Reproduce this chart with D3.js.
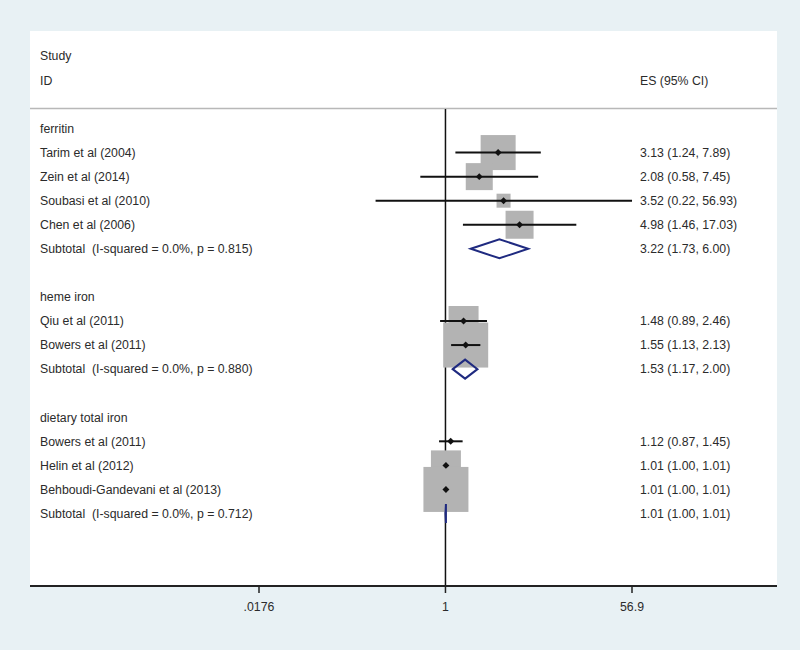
<!DOCTYPE html>
<html><head><meta charset="utf-8">
<script src="https://cdn.jsdelivr.net/npm/d3@7"></script>
<style>
html,body{margin:0;padding:0;background:#e8f1f4;}
svg{display:block;}
text{font-family:"Liberation Sans",Arial,sans-serif;font-size:12.3px;fill:#2b2b2b;white-space:pre;}
</style></head>
<body>
<svg id="chart" width="800" height="650"></svg>
<script>
// ---- data ----
const groupNames = ["ferritin", "heme iron", "dietary total iron"];
const studyGroup = [0, 0, 0, 0, 1, 1, 2, 2, 2];
const studyNames = ["Tarim et al (2004)", "Zein et al (2014)", "Soubasi et al (2010)", "Chen et al (2006)",
  "Qiu et al (2011)", "Bowers et al (2011)",
  "Bowers et al (2011)", "Helin et al (2012)", "Behboudi-Gandevani et al (2013)"];
const studyES = [3.13, 2.08, 3.52, 4.98, 1.48, 1.55, 1.12, 1.01, 1.01];
const studyLo = [1.24, 0.58, 0.22, 1.46, 0.89, 1.13, 0.87, 1.00, 1.00];
const studyHi = [7.89, 7.45, 56.93, 17.03, 2.46, 2.13, 1.45, 1.01, 1.01];
const studyWeight = [6.05, 3.6, 0.97, 3.87, 4.44, 10.0, 0.05, 4.44, 10.0];
const studyText = ["3.13 (1.24, 7.89)", "2.08 (0.58, 7.45)", "3.52 (0.22, 56.93)", "4.98 (1.46, 17.03)",
  "1.48 (0.89, 2.46)", "1.55 (1.13, 2.13)",
  "1.12 (0.87, 1.45)", "1.01 (1.00, 1.01)", "1.01 (1.00, 1.01)"];
const subLabels = ["Subtotal  (I-squared = 0.0%, p = 0.815)", "Subtotal  (I-squared = 0.0%, p = 0.880)", "Subtotal  (I-squared = 0.0%, p = 0.712)"];
const subES = [3.22, 1.53, 1.01];
const subLo = [1.73, 1.17, 1.00];
const subHi = [6.00, 2.00, 1.01];
const subText = ["3.22 (1.73, 6.00)", "1.53 (1.17, 2.00)", "1.01 (1.00, 1.01)"];
const tickValues = [0.0176, 1, 56.9];
const tickLabels = [".0176", "1", "56.9"];

// ---- layout ----
const svg = d3.select("#chart");
const panel = {x0: 30, x1: 777, y0: 31, y1: 586};
svg.append("rect").attr("x", panel.x0).attr("y", panel.y0)
  .attr("width", panel.x1 - panel.x0).attr("height", panel.y1 - panel.y0).attr("fill", "#fff");

// build rows
const rows = [];
groupNames.forEach((g, gi) => {
  rows.push({type: "head", label: g});
  studyNames.forEach((s, i) => {
    if (studyGroup[i] === gi) rows.push({type: "study", label: s, es: studyES[i], lo: studyLo[i], hi: studyHi[i], w: studyWeight[i], txt: studyText[i]});
  });
  rows.push({type: "sub", label: subLabels[gi], es: subES[gi], lo: subLo[gi], hi: subHi[gi], txt: subText[gi]});
  if (gi < groupNames.length - 1) rows.push({type: "blank"});
});

const x = d3.scaleLog().domain([0.0176, 56.9]).range([259, 632]);
const y = d3.scaleLinear().domain([0, rows.length - 1]).range([128.5, 513.5]);

// header
svg.append("text").attr("x", 40).attr("y", 56).attr("dy", "0.35em").text("Study");
svg.append("text").attr("x", 40).attr("y", 81).attr("dy", "0.35em").text("ID");
svg.append("text").attr("x", 640).attr("y", 81).attr("dy", "0.35em").text("ES (95% CI)");
svg.append("line").attr("x1", panel.x0).attr("x2", panel.x1).attr("y1", 108.5).attr("y2", 108.5)
  .attr("stroke", "#b8b8b8").attr("stroke-width", 1.5);

// null line
svg.append("line").attr("x1", x(1)).attr("x2", x(1)).attr("y1", 109).attr("y2", panel.y1)
  .attr("stroke", "#111").attr("stroke-width", 1.5);

const k = 45 / Math.sqrt(10);
// boxes first
rows.forEach((r, i) => {
  if (r.type === "study") {
    const s = k * Math.sqrt(r.w);
    svg.append("rect").attr("x", x(r.es) - s / 2).attr("y", y(i) - s / 2)
      .attr("width", s).attr("height", s).attr("fill", "#b3b3b3");
  }
});
rows.forEach((r, i) => {
  if (r.type === "head") {
    svg.append("text").attr("x", 40).attr("y", y(i)).attr("dy", "0.35em").text(r.label);
  } else if (r.type === "study") {
    svg.append("text").attr("x", 40).attr("y", y(i)).attr("dy", "0.35em").text(r.label);
    svg.append("text").attr("x", 640).attr("y", y(i)).attr("dy", "0.35em").text(r.txt);
    svg.append("line").attr("x1", x(r.lo)).attr("x2", x(r.hi)).attr("y1", y(i)).attr("y2", y(i))
      .attr("stroke", "#111").attr("stroke-width", 2);
    svg.append("path").attr("transform", `translate(${x(r.es)},${y(i)}) rotate(45)`)
      .attr("d", d3.symbol(d3.symbolSquare, 24)()).attr("fill", "#111");
  } else if (r.type === "sub") {
    svg.append("text").attr("x", 40).attr("y", y(i)).attr("dy", "0.35em").text(r.label);
    svg.append("text").attr("x", 640).attr("y", y(i)).attr("dy", "0.35em").text(r.txt);
    const yc = y(i), h = 9.5;
    const pts = [[x(r.lo), yc], [x(r.es), yc - h], [x(r.hi), yc], [x(r.es), yc + h]];
    svg.append("path").attr("d", "M" + pts.join("L") + "Z")
      .attr("fill", "none").attr("stroke", "#1f2a80").attr("stroke-width", 2);
  }
});

// axis
svg.append("line").attr("x1", panel.x0).attr("x2", panel.x1).attr("y1", panel.y1).attr("y2", panel.y1)
  .attr("stroke", "#222").attr("stroke-width", 2);
tickValues.forEach((t, i) => {
  svg.append("line").attr("x1", x(t)).attr("x2", x(t)).attr("y1", panel.y1).attr("y2", panel.y1 + 7)
    .attr("stroke", "#222").attr("stroke-width", 1.5);
  svg.append("text").attr("x", x(t)).attr("y", 607).attr("dy", "0.35em")
    .attr("text-anchor", "middle").text(tickLabels[i]);
});
</script>
</body></html>
